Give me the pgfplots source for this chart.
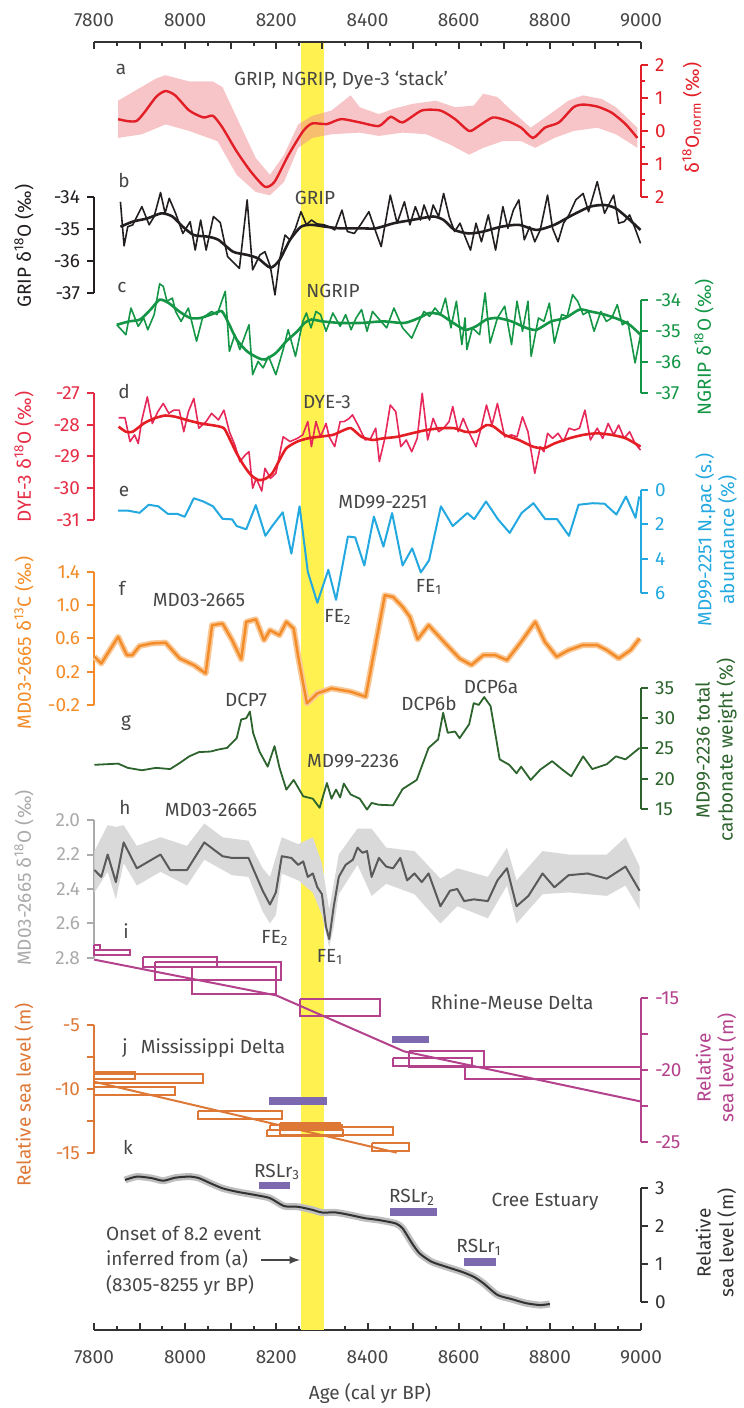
\documentclass[border=0pt]{standalone}
\usepackage{pgfplots}
\pgfplotsset{compat=1.18}
\usepackage{fontspec}
\setmainfont{Fira Sans}
\definecolor{cA}{RGB}{226,30,38}
\definecolor{cAb}{RGB}{240,140,145}
\definecolor{cB}{RGB}{35,31,32}
\definecolor{cC}{RGB}{20,150,70}
\definecolor{cDn}{RGB}{230,40,90}
\definecolor{cD}{RGB}{228,30,36}
\definecolor{cDax}{RGB}{230,45,70}
\definecolor{cE}{RGB}{35,168,224}
\definecolor{cF}{RGB}{243,140,40}
\definecolor{cFg}{RGB}{249,200,150}
\definecolor{cG}{RGB}{45,100,45}
\definecolor{cH}{RGB}{90,90,90}
\definecolor{cHb}{RGB}{217,217,217}
\definecolor{cHax}{RGB}{170,170,170}
\definecolor{cI}{RGB}{180,65,140}
\definecolor{cJ}{RGB}{222,120,55}
\definecolor{cP}{RGB}{125,105,175}
\definecolor{cK}{RGB}{50,50,50}
\definecolor{cKb}{RGB}{190,190,190}
\definecolor{cY}{RGB}{255,242,80}
\definecolor{cT}{RGB}{70,70,70}
\pgfplotsset{
  panel/.style={scale only axis, width=273.5pt, xmin=7800, xmax=9000, axis x line=none, clip=false,
    anchor=south west, tick align=outside, major tick length=3.5pt, minor tick length=2pt,
    /pgf/number format/assume math mode=true,
    every tick label/.append style={font=\fontsize{9.5}{11.4}\selectfont}},
  pc/.style={y axis line style={-, draw=#1, line width=1pt}, ytick style={draw=#1, line width=1pt},
    yticklabel style={text=#1}},
}
\begin{document}
\begin{tikzpicture}[font=\fontsize{9.5}{11.4}\selectfont]
\path[use as bounding box] (0,0) rectangle (372pt,704pt);
% frame: yellow band + bottom axis
\begin{axis}[scale only axis, width=273.5pt, height=644.15pt, at={(47pt,39pt)}, anchor=south west,
  xmin=7800, xmax=9000, ymin=0, ymax=1, axis y line=none, axis x line*=bottom,
  x axis line style={-, line width=1pt, draw=cK},
  xtick={7800,7900,...,9000}, xticklabels={7800,,8000,,8200,,8400,,8600,,8800,,9000},
  minor xtick={7850,7950,...,8950}, tick align=inside, major tick length=3.5pt, minor tick length=2pt,
  xtick style={line width=1pt, draw=cK}, xticklabel style={yshift=-7pt, text=cT, font=\fontsize{9.5}{11.4}\selectfont}]
\addplot[fill=cY, draw=none] coordinates {(8255,0)(8305,0)(8305,1)(8255,1)};
\end{axis}
% top axis
\begin{axis}[scale only axis, width=273.5pt, height=644.15pt, at={(47pt,39pt)}, anchor=south west,
  xmin=7800, xmax=9000, ymin=0, ymax=1, axis y line=none, axis x line*=top,
  x axis line style={-, line width=1pt, draw=cK},
  xtick={7800,7900,...,9000}, xticklabels={7800,,8000,,8200,,8400,,8600,,8800,,9000},
  minor xtick={7850,7950,...,8950}, tick align=inside, major tick length=3.5pt, minor tick length=2pt,
  xtick style={line width=1pt, draw=cK}, xticklabel style={yshift=4pt, text=cT, font=\fontsize{9.5}{11.4}\selectfont}]
\addplot[draw=none] coordinates {(7800,0)};
\end{axis}
% a
\begin{axis}[panel, pc=cA, at={(47pt,605.5pt)}, height=66pt, ymin=-2, ymax=2, axis y line*=right,
  ytick={-2,-1,...,2}, yticklabels={2,1,0,1,2}, minor ytick={-1.5,-0.5,0.5,1.5}]
\addplot[fill=cAb, fill opacity=0.5, draw=none] coordinates {
(7853,0.92)(7936,1.59)(7957,1.69)(8009,1.5)(8061,1.5)(8082,1.33)(8113,0.41)(8155,-0.82)(8186,-1.33)(8217,-0.72)(8248,0.2)(8279,0.46)(8321,0.62)(8363,1.08)(8383,0.72)(8425,0.51)(8456,0.67)(8498,0.82)(8550,0.92)(8592,0.72)(8633,0.77)(8654,1.13)(8685,1.03)(8716,0.62)(8758,0.1)(8800,0.51)(8841,0.92)(8873,1.08)(8914,0.97)(8945,0.72)(8992,0.10)
(8992,-0.51)(8945,-0.1)(8904,0.1)(8852,0)(8810,-0.21)(8768,-0.51)(8737,-0.31)(8696,-0.31)(8654,-0.51)(8623,-0.72)(8581,-0.41)(8529,-0.1)(8477,-0.05)(8425,-0.15)(8383,-0.05)(8321,-0.10)(8279,-0.21)(8248,-0.51)(8217,-1.54)(8186,-1.95)(8155,-1.85)(8113,-1.33)(8071,-0.31)(8009,0.0)(7957,0.2)(7905,-0.10)(7853,-0.21)};
\addplot[cA, line width=1.2pt, smooth, tension=0.4] coordinates {
(7853,0.36)(7894,0.31)(7936,1.03)(7957,1.21)(7978,1.08)(8009,0.62)(8040,0.41)(8061,0.46)(8082,0.10)(8113,-0.62)(8144,-1.23)(8175,-1.69)(8196,-1.54)(8227,-0.72)(8259,0)(8279,0.23)(8311,0.21)(8342,0.36)(8383,0.26)(8425,0.15)(8451,0.43)(8477,0.26)(8519,0.62)(8560,0.62)(8592,0.36)(8623,0)(8644,0.15)(8675,0.41)(8706,0.31)(8737,0.10)(8763,-0.21)(8789,0.10)(8820,0.26)(8852,0.72)(8873,0.80)(8904,0.74)(8935,0.56)(8966,0.21)(8992,-0.21)};
\end{axis}
% b GRIP
\begin{axis}[panel, pc=cB, at={(47pt,557.5pt)}, height=48pt, ymin=-37, ymax=-34, axis y line*=left,
  ytick={-37,-36,-35,-34}]
\addplot[cB, line width=0.8pt, line join=round] coordinates {
(7858,-34.15)(7866,-35.53)(7874,-34.93)(7885,-34.87)(7905,-34.30)(7921,-34.87)(7932,-34.61)(7946,-33.86)(7956,-34.51)(7965,-34.04)(7979,-34.51)(7995,-35.14)(8011,-34.77)(8022,-35.66)(8034,-34.72)(8046,-35.66)(8062,-34.61)(8077,-34.80)(8093,-35.86)(8119,-36.23)(8136,-34.09)(8148,-36.28)(8164,-35.81)(8175,-35.71)(8187,-36.18)(8197,-37.06)(8207,-35.97)(8219,-35.19)(8230,-35.34)(8242,-34.98)(8254,-34.46)(8266,-34.87)(8277,-34.72)(8289,-34.84)(8305,-34.87)(8316,-34.93)(8328,-35.03)(8344,-34.41)(8356,-35.08)(8371,-35.14)(8387,-34.82)(8403,-34.46)(8418,-35.08)(8430,-35.55)(8450,-33.94)(8465,-34.82)(8481,-34.15)(8493,-34.87)(8505,-34.30)(8516,-34.72)(8524,-34.25)(8536,-34.72)(8544,-34.25)(8556,-34.61)(8567,-33.89)(8579,-34.61)(8591,-35.08)(8603,-34.82)(8614,-35.24)(8626,-35.66)(8638,-34.82)(8650,-35.40)(8665,-34.56)(8681,-35.66)(8697,-34.30)(8708,-34.98)(8720,-34.41)(8732,-34.09)(8744,-35.34)(8756,-34.93)(8767,-35.40)(8779,-35.03)(8795,-33.94)(8806,-34.98)(8818,-35.40)(8830,-34.82)(8842,-34.56)(8857,-34.09)(8873,-33.89)(8885,-34.46)(8904,-33.52)(8920,-34.51)(8940,-33.94)(8951,-34.82)(8963,-34.77)(8975,-34.56)(8987,-34.98)(8999,-35.45)};
\addplot[cB, line width=1.3pt, smooth, tension=0.4] coordinates {
(7858,-34.93)(7885,-34.77)(7917,-34.67)(7948,-34.51)(7972,-34.61)(7995,-34.93)(8019,-35.19)(8050,-35.24)(8073,-35.34)(8105,-35.71)(8136,-35.81)(8160,-35.92)(8187,-36.21)(8207,-35.97)(8230,-35.34)(8254,-34.93)(8277,-34.87)(8309,-34.93)(8340,-34.98)(8387,-34.98)(8418,-34.98)(8458,-34.82)(8497,-34.72)(8544,-34.61)(8567,-34.72)(8591,-35.03)(8622,-35.14)(8654,-35.08)(8693,-34.93)(8732,-34.87)(8771,-35.03)(8810,-34.87)(8850,-34.56)(8889,-34.30)(8920,-34.25)(8944,-34.35)(8967,-34.61)(8999,-35.03)};
\end{axis}
% c NGRIP
\begin{axis}[panel, pc=cC, at={(47pt,507.5pt)}, height=46.5pt, ymin=-37, ymax=-34, axis y line*=right,
  ytick={-37,-36,-35,-34}]
\addplot[cC, line width=0.8pt, line join=round] coordinates {
(7850,-34.80)(7870,-35.12)(7881,-34.26)(7897,-34.85)(7909,-34.58)(7918,-34.96)(7932,-34.47)(7944,-33.48)(7952,-33.56)(7960,-34.04)(7972,-33.94)(7979,-34.37)(7991,-34.69)(8007,-34.26)(8025,-35.33)(8038,-34.58)(8058,-34.37)(8070,-34.47)(8088,-33.72)(8097,-35.66)(8109,-35.12)(8120,-35.60)(8140,-34.80)(8148,-36.41)(8160,-35.98)(8171,-36.19)(8183,-35.82)(8199,-36.41)(8215,-35.60)(8226,-34.96)(8242,-35.82)(8258,-34.69)(8266,-34.42)(8276,-34.90)(8287,-34.37)(8297,-34.47)(8309,-35.01)(8324,-34.42)(8340,-34.85)(8352,-34.47)(8364,-34.96)(8375,-34.58)(8387,-34.31)(8399,-35.01)(8411,-34.37)(8426,-34.63)(8442,-34.90)(8458,-34.26)(8477,-34.90)(8497,-35.23)(8513,-34.69)(8524,-34.37)(8536,-34.53)(8548,-34.26)(8560,-34.47)(8571,-33.94)(8583,-34.90)(8595,-34.04)(8607,-35.44)(8614,-34.58)(8618,-35.60)(8630,-34.90)(8646,-35.12)(8658,-33.77)(8669,-35.39)(8685,-34.58)(8701,-34.20)(8716,-35.44)(8728,-34.04)(8740,-35.01)(8752,-34.04)(8759,-35.82)(8775,-34.58)(8787,-34.69)(8799,-34.10)(8810,-35.39)(8826,-34.47)(8838,-34.53)(8850,-33.83)(8861,-34.04)(8873,-34.47)(8885,-34.37)(8897,-35.01)(8912,-34.37)(8924,-34.69)(8936,-34.58)(8948,-34.15)(8959,-34.80)(8971,-34.69)(8987,-36.03)(8999,-35.12)};
\addplot[cC, line width=1.3pt, smooth, tension=0.4] coordinates {
(7850,-34.80)(7877,-34.69)(7901,-34.63)(7924,-34.31)(7944,-33.99)(7964,-34.10)(7987,-34.37)(8011,-34.58)(8034,-34.58)(8066,-34.42)(8081,-34.37)(8097,-34.80)(8113,-35.28)(8136,-35.66)(8160,-35.87)(8175,-35.92)(8199,-35.71)(8222,-35.33)(8246,-35.01)(8262,-34.74)(8277,-34.63)(8301,-34.69)(8340,-34.74)(8387,-34.74)(8434,-34.69)(8481,-34.74)(8513,-34.58)(8536,-34.42)(8560,-34.47)(8583,-34.69)(8614,-34.96)(8638,-34.85)(8661,-34.63)(8685,-34.58)(8716,-34.69)(8748,-34.90)(8771,-34.96)(8803,-34.69)(8834,-34.58)(8865,-34.31)(8889,-34.37)(8920,-34.47)(8952,-34.63)(8975,-34.80)(8999,-35.12)};
\end{axis}
% d DYE-3
\begin{axis}[panel, pc=cDax, at={(47pt,444pt)}, height=63.5pt, ymin=-31, ymax=-27, axis y line*=left,
  ytick={-31,-30,...,-27}]
\addplot[cDn, line width=0.8pt, line join=round] coordinates {
(7854,-27.78)(7868,-27.78)(7879,-28.53)(7889,-28.32)(7897,-28.59)(7905,-27.85)(7917,-27.12)(7928,-27.96)(7940,-27.59)(7952,-27.33)(7964,-27.64)(7975,-27.54)(7987,-27.54)(7997,-28.22)(8007,-27.59)(8019,-27.17)(8030,-28.11)(8046,-27.90)(8058,-27.64)(8073,-27.85)(8085,-27.54)(8097,-28.22)(8109,-28.64)(8120,-29.16)(8132,-28.95)(8140,-28.85)(8148,-30.00)(8156,-29.69)(8168,-30.09)(8175,-29.37)(8187,-29.69)(8199,-29.53)(8215,-28.38)(8230,-28.53)(8246,-28.43)(8258,-28.32)(8269,-27.90)(8277,-28.69)(8287,-27.90)(8297,-28.38)(8309,-27.96)(8316,-28.38)(8328,-28.69)(8340,-27.90)(8349,-27.90)(8360,-27.80)(8367,-27.69)(8379,-28.01)(8395,-28.48)(8407,-28.43)(8418,-28.11)(8426,-29.16)(8438,-28.43)(8450,-27.38)(8462,-27.59)(8473,-28.69)(8485,-28.48)(8497,-28.85)(8509,-28.43)(8520,-27.01)(8532,-28.48)(8544,-27.80)(8556,-28.22)(8567,-28.11)(8579,-27.90)(8587,-27.43)(8599,-28.22)(8610,-27.80)(8622,-28.22)(8638,-28.69)(8650,-28.06)(8661,-27.38)(8673,-28.01)(8685,-27.33)(8701,-28.38)(8716,-28.32)(8728,-28.38)(8740,-27.75)(8752,-28.22)(8767,-29.53)(8779,-28.69)(8787,-28.85)(8795,-28.27)(8806,-28.43)(8818,-28.27)(8830,-28.53)(8842,-28.11)(8854,-28.17)(8865,-28.11)(8877,-27.54)(8889,-28.48)(8904,-28.11)(8916,-28.43)(8928,-27.96)(8940,-28.32)(8951,-28.01)(8963,-28.43)(8975,-28.22)(8987,-28.59)(8999,-28.80)};
\addplot[cD, line width=1.3pt, smooth, tension=0.4] coordinates {
(7854,-28.06)(7870,-28.22)(7885,-28.22)(7909,-27.96)(7932,-27.80)(7956,-27.71)(7979,-27.75)(8003,-27.85)(8034,-27.96)(8066,-28.03)(8085,-28.11)(8097,-28.43)(8113,-28.90)(8128,-29.27)(8144,-29.58)(8160,-29.74)(8175,-29.71)(8191,-29.53)(8207,-29.11)(8222,-28.74)(8246,-28.53)(8269,-28.43)(8293,-28.38)(8324,-28.32)(8348,-28.17)(8364,-28.11)(8387,-28.38)(8411,-28.48)(8434,-28.43)(8465,-28.38)(8497,-28.27)(8528,-28.17)(8560,-28.11)(8591,-28.11)(8614,-28.22)(8638,-28.22)(8661,-28.01)(8677,-28.06)(8701,-28.32)(8732,-28.48)(8763,-28.69)(8787,-28.74)(8810,-28.59)(8842,-28.43)(8873,-28.32)(8904,-28.27)(8936,-28.32)(8967,-28.43)(8999,-28.69)};
\end{axis}
% e MD99-2251
\begin{axis}[panel, pc=cE, at={(47pt,407.5pt)}, height=51.5pt, ymin=0, ymax=6, y dir=reverse, axis y line*=right,
  ytick={0,2,4,6}]
\addplot[cE, line width=1pt, line join=round] coordinates {
(7853,1.2)(7874,1.2)(7900,1.33)(7920,0.86)(7941,0.95)(7962,1.39)(7983,1.39)(7999,1.56)(8019,0.48)(8040,0.67)(8061,0.95)(8082,1.68)(8103,1.71)(8113,2.1)(8134,2.29)(8155,0.88)(8176,2.67)(8191,2.1)(8214,1.3)(8233,3.71)(8251,0.95)(8269,4.76)(8290,6.57)(8314,4.65)(8331,6.4)(8357,2.71)(8373,2.76)(8393,4.4)(8414,1.55)(8435,3.3)(8454,1.34)(8477,4.4)(8498,3.4)(8517,4.8)(8535,4.1)(8561,0.95)(8587,2.1)(8619,1.34)(8634,1.7)(8660,0.67)(8686,1.7)(8712,2.5)(8738,1.34)(8764,0.77)(8790,1.7)(8816,1.7)(8842,2.67)(8863,0.86)(8894,0.77)(8920,0.8)(8946,1.43)(8967,0.38)(8988,1.62)(8996,0.38)};
\end{axis}
% f MD03-2665 d13C
\begin{axis}[panel, pc=cF, at={(47pt,351.5pt)}, height=66.5pt, ymin=-0.2, ymax=1.4, axis y line*=left,
  ytick={-0.2,0.2,0.6,1.0,1.4}, yticklabel style={/pgf/number format/fixed, /pgf/number format/fixed zerofill, /pgf/number format/precision=1}]
\addplot[cFg, line width=3pt, line join=round] coordinates {
(7801,0.38)(7816,0.30)(7853,0.62)(7872,0.40)(7884,0.40)(7900,0.51)(7926,0.54)(7957,0.55)(7988,0.36)(8019,0.28)(8045,0.18)(8059,0.76)(8082,0.78)(8103,0.58)(8123,0.35)(8134,0.80)(8155,0.83)(8173,0.58)(8186,0.70)(8207,0.64)(8222,0.80)(8238,0.72)(8248,0.38)(8267,-0.18)(8290,-0.06)(8321,0.00)(8363,-0.04)(8396,-0.10)(8438,1.12)(8456,1.10)(8477,0.98)(8493,0.86)(8510,0.59)(8534,0.76)(8571,0.54)(8602,0.36)(8628,0.28)(8654,0.40)(8680,0.40)(8706,0.34)(8737,0.56)(8768,0.80)(8789,0.56)(8815,0.38)(8841,0.46)(8872,0.52)(8904,0.52)(8925,0.46)(8951,0.36)(8977,0.46)(8997,0.60)};
\addplot[cF, line width=1.2pt, line join=round] coordinates {
(7801,0.38)(7816,0.30)(7853,0.62)(7872,0.40)(7884,0.40)(7900,0.51)(7926,0.54)(7957,0.55)(7988,0.36)(8019,0.28)(8045,0.18)(8059,0.76)(8082,0.78)(8103,0.58)(8123,0.35)(8134,0.80)(8155,0.83)(8173,0.58)(8186,0.70)(8207,0.64)(8222,0.80)(8238,0.72)(8248,0.38)(8267,-0.18)(8290,-0.06)(8321,0.00)(8363,-0.04)(8396,-0.10)(8438,1.12)(8456,1.10)(8477,0.98)(8493,0.86)(8510,0.59)(8534,0.76)(8571,0.54)(8602,0.36)(8628,0.28)(8654,0.40)(8680,0.40)(8706,0.34)(8737,0.56)(8768,0.80)(8789,0.56)(8815,0.38)(8841,0.46)(8872,0.52)(8904,0.52)(8925,0.46)(8951,0.36)(8977,0.46)(8997,0.60)};
\end{axis}
% g MD99-2236
\begin{axis}[panel, pc=cG, at={(47pt,299.5pt)}, height=60.5pt, ymin=15, ymax=35, axis y line*=right,
  ytick={15,20,...,35}]
\addplot[cG, line width=0.9pt, line join=round] coordinates {
(7801,22.3)(7853,22.5)(7874,21.8)(7905,21.4)(7936,21.8)(7967,21.6)(7988,22.6)(8009,23.7)(8030,24.4)(8056,24.5)(8071,24.8)(8092,25.1)(8113,26.7)(8123,29.8)(8134,30.0)(8142,31.1)(8149,27.6)(8163,24.5)(8181,22.0)(8196,25.4)(8207,21.8)(8222,18.2)(8238,19.8)(8259,17.1)(8280,16.7)(8295,15.2)(8311,19.3)(8321,16.7)(8331,18.2)(8340,16.9)(8348,19.2)(8363,17.4)(8383,16.7)(8399,14.9)(8409,16.0)(8425,15.7)(8456,15.6)(8477,18.3)(8508,19.8)(8534,25.1)(8555,26.5)(8566,30.9)(8576,27.6)(8592,27.8)(8602,26.7)(8623,29.0)(8633,32.5)(8644,32.2)(8656,33.5)(8670,32.0)(8690,23.2)(8711,22.3)(8727,20.9)(8737,22.0)(8758,19.8)(8779,21.5)(8805,22.9)(8826,21.6)(8847,20.4)(8873,23.7)(8893,21.6)(8925,22.4)(8945,23.7)(8966,23.2)(8997,25.1)};
\end{axis}
% h MD03-2665 d18O
\begin{axis}[panel, pc=cHax, at={(47pt,225pt)}, height=69pt, ymin=2.0, ymax=2.8, y dir=reverse, axis y line*=left,
  ytick={2.0,2.2,2.4,2.6,2.8}, yticklabel style={/pgf/number format/fixed, /pgf/number format/fixed zerofill, /pgf/number format/precision=1}]
\addplot[fill=cHb, draw=none] coordinates {
(7801,2.18)(7830,2.03)(7848,2.04)(7865,2.03)(7894,2.15)(7946,2.10)(8004,2.15)(8042,2.02)(8082,2.10)(8139,2.12)(8170,2.28)(8186,2.33)(8212,2.10)(8248,2.14)(8280,2.10)(8300,2.25)(8316,2.52)(8337,2.20)(8378,2.05)(8409,2.05)(8441,2.16)(8503,2.18)(8560,2.34)(8597,2.28)(8664,2.33)(8706,2.16)(8727,2.35)(8784,2.18)(8841,2.20)(8925,2.20)(8966,2.10)(8997,2.27)
(8997,2.52)(8966,2.38)(8925,2.44)(8841,2.42)(8784,2.43)(8727,2.60)(8706,2.38)(8664,2.57)(8597,2.50)(8560,2.60)(8503,2.43)(8441,2.37)(8409,2.44)(8378,2.26)(8337,2.43)(8326,2.62)(8316,2.74)(8300,2.55)(8280,2.42)(8248,2.35)(8212,2.31)(8199,2.55)(8186,2.60)(8170,2.53)(8139,2.33)(8103,2.32)(8042,2.23)(8004,2.38)(7946,2.30)(7894,2.38)(7865,2.25)(7848,2.46)(7830,2.30)(7801,2.42)};
\addplot[cH, line width=1pt, line join=round] coordinates {
(7801,2.29)(7816,2.33)(7830,2.20)(7848,2.36)(7865,2.13)(7894,2.28)(7946,2.20)(7967,2.29)(8004,2.29)(8042,2.13)(8082,2.21)(8103,2.22)(8139,2.22)(8170,2.41)(8186,2.49)(8199,2.42)(8212,2.21)(8233,2.22)(8248,2.26)(8259,2.24)(8269,2.33)(8280,2.31)(8290,2.39)(8300,2.43)(8309,2.62)(8316,2.69)(8326,2.50)(8337,2.33)(8352,2.26)(8368,2.23)(8378,2.16)(8389,2.19)(8399,2.18)(8409,2.33)(8425,2.22)(8441,2.27)(8456,2.28)(8472,2.22)(8487,2.35)(8503,2.31)(8519,2.36)(8534,2.31)(8560,2.50)(8581,2.41)(8597,2.40)(8612,2.47)(8633,2.46)(8664,2.47)(8685,2.35)(8706,2.28)(8727,2.50)(8753,2.44)(8784,2.31)(8810,2.39)(8841,2.32)(8883,2.31)(8925,2.34)(8966,2.27)(8997,2.41)};
\end{axis}
% i Rhine-Meuse
\begin{axis}[panel, pc=cI, at={(47pt,133.15pt)}, height=71.7pt, ymin=-25, ymax=-15, axis y line*=right,
  ytick={-25,-22.5,-20,-17.5,-15}, yticklabels={-25,,-20,,-15}]
\addplot[cI, line width=1pt] coordinates {(7800,-11.3)(7813,-11.3)(7813,-11.6)(7800,-11.6)(7800,-11.3)};
\addplot[cI, line width=1pt] coordinates {(7800,-11.6)(7879,-11.6)(7879,-12.0)(7800,-12.0)(7800,-11.6)};
\addplot[cI, line width=1pt] coordinates {(7908,-12.1)(8069,-12.1)(8069,-12.8)(7908,-12.8)(7908,-12.1)};
\addplot[cI, line width=1pt] coordinates {(7934,-12.5)(8211,-12.5)(8211,-13.7)(7934,-13.7)(7934,-12.5)};
\addplot[cI, line width=1pt] coordinates {(8015,-12.8)(8200,-12.8)(8200,-14.7)(8015,-14.7)(8015,-12.8)};
\addplot[cI, line width=1pt] coordinates {(8252,-15.07)(8428,-15.07)(8428,-16.2)(8252,-16.2)(8252,-15.07)};
\addplot[cI, line width=1pt] coordinates {(8457,-19.18)(8629,-19.18)(8629,-19.72)(8457,-19.72)(8457,-19.18)};
\addplot[cI, line width=1pt] coordinates {(8490,-18.7)(8655,-18.7)(8655,-19.8)(8490,-19.8)(8490,-18.7)};
\addplot[cI, line width=1pt] coordinates {(8614,-19.8)(9000,-19.8)(9000,-20.6)(8614,-20.6)(8614,-19.8)};
\addplot[cI, line width=1pt] coordinates {(7800,-12.3)(8200,-14.8)(8480,-18.7)(9000,-22.2)};
\addplot[fill=cP, draw=none] coordinates {(8453,-17.6)(8534,-17.6)(8534,-18.1)(8453,-18.1)};
\end{axis}
% j Mississippi
\begin{axis}[panel, pc=cJ, at={(47pt,127.35pt)}, height=64.15pt, ymin=-15, ymax=-5, axis y line*=left,
  ytick={-15,-12.5,-10,-7.5,-5}, yticklabels={-15,,-10,,-5}]
\addplot[cJ, line width=1pt] coordinates {(7800,-8.64)(7890,-8.64)(7890,-9.23)(7800,-9.23)(7800,-8.64)};
\addplot[cJ, line width=1pt] coordinates {(7800,-8.8)(8040,-8.8)(8040,-9.5)(7800,-9.5)(7800,-8.8)};
\addplot[cJ, line width=1pt] coordinates {(7800,-9.8)(7978,-9.8)(7978,-10.46)(7800,-10.46)(7800,-9.8)};
\addplot[cJ, line width=1pt] coordinates {(8029,-11.68)(8212,-11.68)(8212,-12.33)(8029,-12.33)(8029,-11.68)};
\addplot[cJ, line width=1pt] coordinates {(8186,-12.8)(8344,-12.8)(8344,-13.2)(8186,-13.2)(8186,-12.8)};
\addplot[cJ, line width=1pt] coordinates {(8179,-13.2)(8347,-13.2)(8347,-13.65)(8179,-13.65)(8179,-13.2)};
\addplot[cJ, line width=1pt] coordinates {(8208,-12.97)(8457,-12.97)(8457,-13.6)(8208,-13.6)(8208,-12.97)};
\addplot[cJ, line width=1pt] coordinates {(8208,-12.66)(8340,-12.66)(8340,-13.13)(8208,-13.13)(8208,-12.66)};
\addplot[cJ, line width=1pt] coordinates {(8410,-14.17)(8490,-14.17)(8490,-14.79)(8410,-14.79)(8410,-14.17)};
\addplot[cJ, line width=1pt] coordinates {(7800,-9.42)(8464,-14.95)};
\addplot[fill=cP, draw=none] coordinates {(8183,-10.6)(8311,-10.6)(8311,-11.2)(8183,-11.2)};
\end{axis}
% k Cree Estuary
\begin{axis}[panel, pc=cK, at={(47pt,53.15pt)}, height=56.7pt, ymin=0, ymax=3, axis y line*=right,
  ytick={0,1,2,3}]
\addplot[cKb, line width=3.5pt, line join=round, smooth, tension=0.4] coordinates {
(7868,3.22)(7894,3.31)(7926,3.27)(7952,3.20)(7978,3.28)(8009,3.31)(8030,3.27)(8056,3.13)(8082,3.00)(8113,2.91)(8155,2.82)(8186,2.74)(8217,2.53)(8248,2.51)(8279,2.43)(8300,2.36)(8331,2.36)(8363,2.29)(8394,2.21)(8425,2.16)(8462,2.07)(8477,1.94)(8498,1.54)(8514,1.28)(8540,1.06)(8571,0.93)(8607,0.79)(8633,0.66)(8654,0.49)(8685,0.18)(8716,0.07)(8748,-0.04)(8779,-0.09)(8800,-0.06)};
\addplot[cK, line width=1pt, smooth, tension=0.4] coordinates {
(7868,3.22)(7894,3.31)(7926,3.27)(7952,3.20)(7978,3.28)(8009,3.31)(8030,3.27)(8056,3.13)(8082,3.00)(8113,2.91)(8155,2.82)(8186,2.74)(8217,2.53)(8248,2.51)(8279,2.43)(8300,2.36)(8331,2.36)(8363,2.29)(8394,2.21)(8425,2.16)(8462,2.07)(8477,1.94)(8498,1.54)(8514,1.28)(8540,1.06)(8571,0.93)(8607,0.79)(8633,0.66)(8654,0.49)(8685,0.18)(8716,0.07)(8748,-0.04)(8779,-0.09)(8800,-0.06)};
\addplot[fill=cP, draw=none] coordinates {(8163,2.98)(8230,2.98)(8230,3.17)(8163,3.17)};
\addplot[fill=cP, draw=none] coordinates {(8449,2.27)(8553,2.27)(8553,2.48)(8449,2.48)};
\addplot[fill=cP, draw=none] coordinates {(8611,0.94)(8681,0.94)(8681,1.16)(8611,1.16)};
\end{axis}
% annotations
\begin{scope}[x=0.5pt, y=-0.5pt, shift={(0pt,704pt)}]
\node[text=cT] at (121,70) {a};
\node[text=cT] at (341,80) {GRIP, NGRIP, Dye-3 ‘stack’};
\node[text=cT] at (124,181) {b};
\node[text=cT] at (315,198) {GRIP};
\node[text=cT] at (122,288) {c};
\node[text=cT] at (333,291) {NGRIP};
\node[text=cT] at (124,392) {d};
\node[text=cT] at (327,402) {DYE-3};
\node[text=cT] at (124,492) {e};
\node[text=cT] at (383,502) {MD99-2251};
\node[text=cT] at (429,587) {FE\textsubscript{1}};
\node[text=cT] at (338,617) {FE\textsubscript{2}};
\node[text=cT] at (122,588) {f};
\node[text=cT] at (199,600) {MD03-2665};
\node[text=cT] at (126,723) {g};
\node[text=cT] at (246,700) {DCP7};
\node[text=cT] at (429,703) {DCP6b};
\node[text=cT] at (491,687) {DCP6a};
\node[text=cT] at (353,761) {MD99-2236};
\node[text=cT] at (125,807) {h};
\node[text=cT] at (211,810) {MD03-2665};
\node[text=cT] at (275,938) {FE\textsubscript{2}};
\node[text=cT] at (330,957) {FE\textsubscript{1}};
\node[text=cT] at (126,931) {i};
\node[text=cT] at (512,1002) {Rhine-Meuse Delta};
\node[text=cT] at (125,1048) {j};
\node[text=cT] at (213,1048) {Mississippi Delta};
\node[text=cT] at (128,1147) {k};
\node[text=cT] at (277,1172) {RSLr\textsubscript{3}};
\node[text=cT] at (412,1197) {RSLr\textsubscript{2}};
\node[text=cT] at (479,1247) {RSLr\textsubscript{1}};
\node[text=cT] at (545,1202) {Cree Estuary};
\node[text=cT, anchor=west] at (99,1233) {Onset of 8.2 event};
\node[text=cT, anchor=west] at (99,1259) {inferred from (a)};
\node[text=cT, anchor=west] at (99,1285) {(8305-8255 yr BP)};
\draw[-latex, line width=0.8pt, cT] (261,1260) -- (300,1260);
\node[text=cT] at (370,1393) {Age (cal yr BP)};
% axis titles
\node[rotate=90, text=cA] at (692,118) {δ\textsuperscript{18}O\textsubscript{norm} (‰)};
\node[rotate=90, text=cB] at (24,246) {GRIP δ\textsuperscript{18}O (‰)};
\node[rotate=90, text=cC] at (704,347) {NGRIP δ\textsuperscript{18}O (‰)};
\node[rotate=90, text=cDax] at (24,457) {DYE-3 δ\textsuperscript{18}O (‰)};
\node[rotate=90, text=cE, align=center] at (716,540) {MD99-2251 N.pac (s.)\\abundance (\%)};
\node[rotate=90, text=cF] at (24,643) {MD03-2665 δ\textsuperscript{13}C (‰)};
\node[rotate=90, text=cG, align=center] at (716,750) {MD99-2236 total\\carbonate weight (\%)};
\node[rotate=90, text=cHax] at (24,878) {MD03-2665 δ\textsuperscript{18}O (‰)};
\node[rotate=90, text=cI, align=center] at (716,1068) {Relative\\sea level (m)};
\node[rotate=90, text=cJ] at (24,1095) {Relative sea level (m)};
\node[rotate=90, text=cK, align=center] at (716,1243) {Relative\\sea level (m)};
\end{scope}
\end{tikzpicture}
\end{document}
